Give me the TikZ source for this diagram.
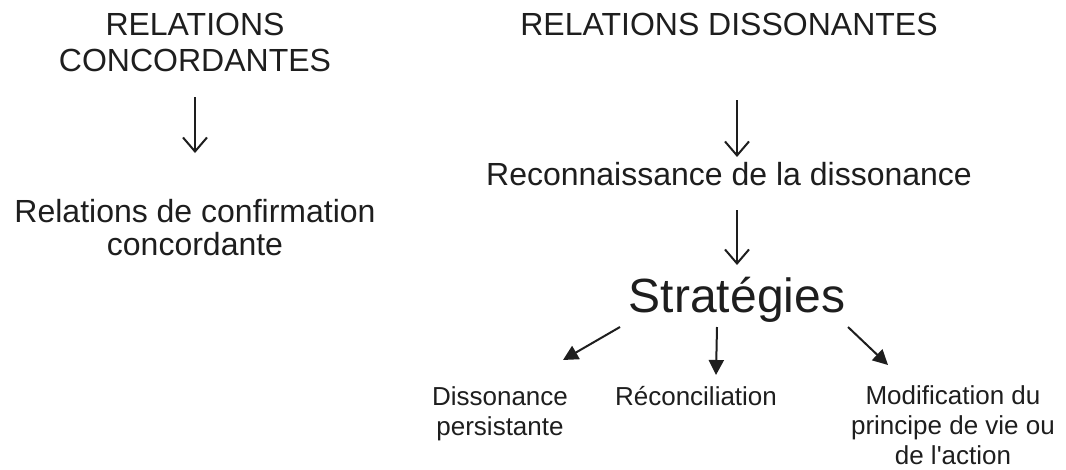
\documentclass[tikz,border=0pt]{standalone}
\usepackage{fontspec}
\setmainfont{Liberation Sans}
\usetikzlibrary{arrows.meta}
\definecolor{ink}{HTML}{1E1E1E}
\newcommand{\mlines}[1]{\begin{tabular}[t]{@{}c@{}}#1\end{tabular}}
\begin{document}
\begin{tikzpicture}[x=1pt,y=-1pt,
  txt/.style={anchor=base,inner sep=0pt,text=ink},
  big/.style={txt,font=\fontsize{32}{36}\selectfont},
  mid/.style={txt,font=\fontsize{32}{33.5}\selectfont},
  huge/.style={txt,font=\fontsize{48}{52}\selectfont},
  small/.style={txt,font=\fontsize{26}{30}\selectfont},
  toparrow/.style={draw=ink,line width=1.6pt,-{Straight Barb[length=14pt,width=24pt,line width=2pt]}},
  lowarrow/.style={draw=ink,line width=2pt,-{Triangle[length=15pt,width=15pt]}}]
\useasboundingbox (0,0) rectangle (1066,469);
\fill[white] (0,0) rectangle (1066,469);

\node[big] (rc) at (195,35) {\mlines{RELATIONS\\CONCORDANTES}};
\node[big] (rd) at (729,35) {RELATIONS DISSONANTES};
\node[mid] (rdc) at (195,222) {\mlines{Relations de confirmation\\concordante}};
\node[big] (rec) at (729,185) {Reconnaissance de la dissonance};
\node[huge] (str) at (737,312) {Stratégies};
\node[small] (dis) at (500,405) {\mlines{Dissonance\\persistante}};
\node[small] (rcn) at (696,405) {Réconciliation};
\node[small] (mod) at (953,404) {\mlines{Modification du\\principe de vie ou\\de l\textquotesingle action}};

\draw[toparrow] ([shift={(0,62)}]rc.base) -- ([shift={(0,-69)}]rdc.base);
\draw[toparrow] ([shift={(8,65)}]rd.base) -- ([shift={(8,-28)}]rec.base);
\draw[toparrow] ([shift={(8,25)}]rec.base) -- ([shift={(0,-47)}]str.base);

\draw[lowarrow] ([shift={(-117,15)}]str.base) -- ([shift={(63,-45)}]dis.base);
\draw[lowarrow] ([shift={(-20,15)}]str.base) -- ([shift={(20,-30)}]rcn.base);
\draw[lowarrow] ([shift={(111,15)}]str.base) -- ([shift={(-65,-39)}]mod.base);
\end{tikzpicture}
\end{document}
